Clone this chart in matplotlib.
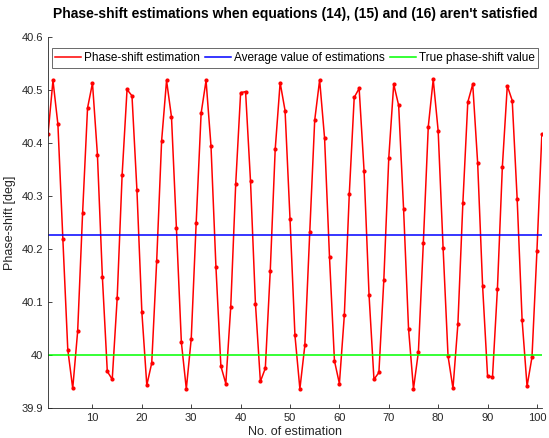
#!/usr/bin/env python3
"""Phase-shift estimations when equations (14), (15) and (16) aren't satisfied."""

import matplotlib
matplotlib.use('Agg')
import matplotlib.pyplot as plt
import numpy as np

plt.rcParams.update({
    'font.family': ['Liberation Sans', 'DejaVu Sans'],
    'font.size': 8,
    'axes.linewidth': 0.6,
})

# estimation index 1..101
n_est = np.arange(1, 102)

# phase-shift estimates [deg]
phase_est = [
    40.417, 40.518, 40.435, 40.219, 40.010, 39.937, 40.045, 40.268, 40.466, 40.513,
    40.378, 40.148, 39.969, 39.954, 40.107, 40.339, 40.501, 40.489, 40.311, 40.081,
    39.943, 39.985, 40.177, 40.404, 40.518, 40.449, 40.239, 40.024, 39.936, 40.031,
    40.250, 40.456, 40.518, 40.394, 40.166, 39.979, 39.946, 40.091, 40.322, 40.495,
    40.497, 40.328, 40.097, 39.950, 39.975, 40.159, 40.388, 40.514, 40.461, 40.257,
    40.037, 39.936, 40.018, 40.232, 40.443, 40.519, 40.409, 40.184, 39.989, 39.946,
    40.075, 40.303, 40.486, 40.503, 40.347, 40.114, 39.954, 39.967, 40.142, 40.372,
    40.511, 40.471, 40.275, 40.050, 39.936, 40.006, 40.212, 40.431, 40.520, 40.423,
    40.202, 39.998, 39.937, 40.059, 40.286, 40.477, 40.511, 40.362, 40.130, 39.961,
    39.958, 40.125, 40.355, 40.508, 40.480, 40.294, 40.066, 39.941, 39.996, 40.196,
    40.417,
]

avg_value = 40.227
true_value = 40.0

fig = plt.figure(figsize=(5.49, 4.38), dpi=100)
ax = fig.add_axes([0.0875, 0.0685, 0.8995, 0.847])

ax.plot(n_est, phase_est, '.-', color='red', linewidth=1.1, markersize=4,
        label='Phase-shift estimation')
ax.axhline(avg_value, color='blue', linewidth=1.1, label='Average value of estimations')
ax.axhline(true_value, color='#00ff00', linewidth=1.1, label='True phase-shift value')

ax.set_xlim(1, 101)
ax.set_ylim(39.9, 40.6)
ax.set_xticks(np.arange(10, 101, 10))
yt = np.round(np.arange(39.9, 40.61, 0.1), 1)
ax.set_yticks(yt)
ax.set_yticklabels(['40' if v == 40.0 else f'{v:.1f}' for v in yt])

for s in ['top', 'right']:
    ax.spines[s].set_visible(False)
for s in ['left', 'bottom']:
    ax.spines[s].set_color('#262626')
ax.tick_params(direction='in', length=3, width=0.6, colors='#262626', labelsize=8)

ax.set_xlabel('No. of estimation', fontsize=9, color='#262626', labelpad=2)
ax.set_ylabel('Phase-shift [deg]', fontsize=9, color='#262626', labelpad=4)
ax.set_title("Phase-shift estimations when equations (14), (15) and (16) aren't satisfied",
             fontsize=10, fontweight='bold', pad=14)

leg = ax.legend(loc='upper center', ncol=3, fontsize=8.5, frameon=True, fancybox=False,
                edgecolor='#262626', handlelength=2.2, handletextpad=0.2,
                columnspacing=0.5, borderpad=0.3, markerscale=0.0001,
                bbox_to_anchor=(0.5, 0.985))
leg.get_frame().set_linewidth(0.6)

fig.savefig('out.png', dpi=100)
